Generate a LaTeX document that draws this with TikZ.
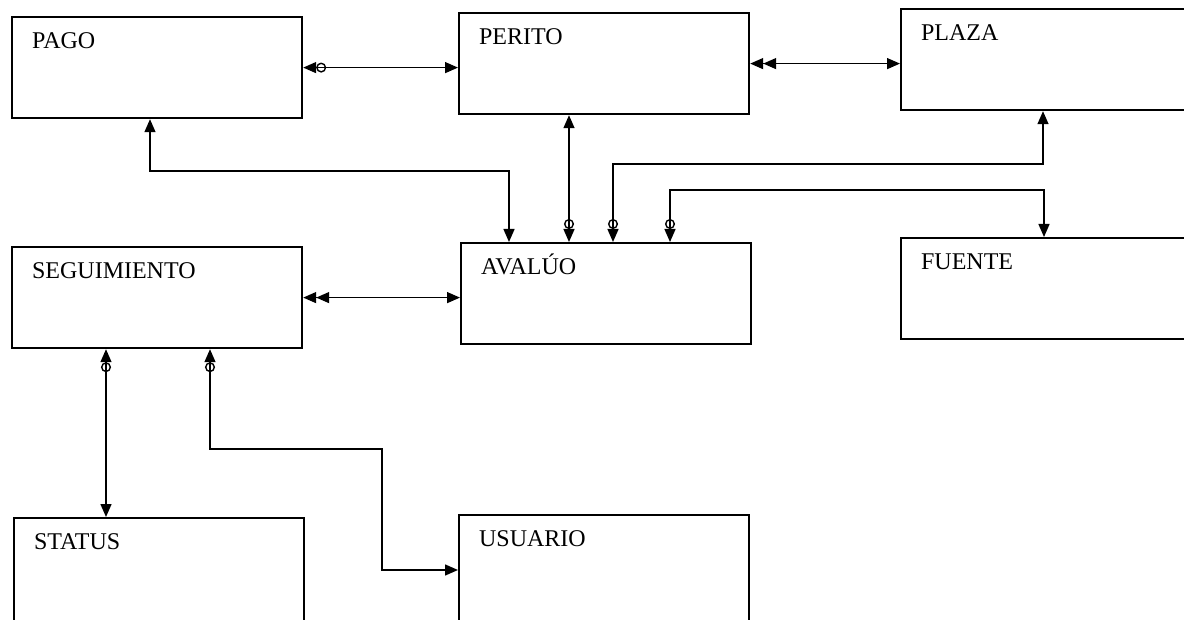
\documentclass[tikz,border=0pt]{standalone}
\usepackage{fontspec}
\setmainfont{Liberation Serif}
\usetikzlibrary{arrows.meta}

\begin{document}
\begin{tikzpicture}[x=0.5pt,y=-0.5pt,
    entity/.style={draw, line width=1.1pt, anchor=north west, inner xsep=10pt, inner ysep=0pt,
        text width=125pt, text height=15.5pt, text depth=35pt, align=left,
        font=\fontsize{12}{14}\selectfont},
    rel/.style={line width=0.7pt},
    tri/.tip={Triangle[length=6.5pt,width=5.5pt]},
    ring/.tip={Circle[open,length=5pt,width=5pt]}]
    % Page frame
    \useasboundingbox (0,0) rectangle (1184,620);
    \clip (0,0) rectangle (1184,620);

    % Entities
    \node[entity] (pago) at (11,16) {PAGO};
    \node[entity] (perito) at (458,12) {PERITO};
    \node[entity, text width=170pt] (plaza) at (900,8) {PLAZA};
    \node[entity] (seguimiento) at (11,246) {SEGUIMIENTO};
    \node[entity] (avaluo) at (460,242) {AVALÚO};
    \node[entity, text width=170pt] (fuente) at (900,237) {FUENTE};
    \node[entity, text depth=45pt] (status) at (13,517) {STATUS};
    \node[entity, text depth=45pt] (usuario) at (458,514) {USUARIO};

    % Bend points
    \coordinate (b1) at (150,171);
    \coordinate (b2) at (509,171);
    \coordinate (b3) at (569,0);
    \coordinate (b4) at (613,164);
    \coordinate (b5) at (1043,164);
    \coordinate (b6) at (670,190);
    \coordinate (b7) at (1044,190);
    \coordinate (b8) at (106,0);
    \coordinate (b9) at (210,449);
    \coordinate (b10) at (382,449);
    \coordinate (b11) at (382,570);

    % Horizontal relations
    \draw[rel, {tri[] ring[]}-{tri[]}] (pago.east) -- (pago.east -| perito.west);
    \draw[rel, {tri[sep=0pt] tri[]}-{tri[]}] (perito.east) -- (perito.east -| plaza.west);
    \draw[rel, {tri[sep=0pt] tri[]}-{tri[]}] (seguimiento.east) -- (seguimiento.east -| avaluo.west);

    % Relations into AVALUO
    \draw[rel, {tri[]}-{tri[]}] (pago.south -| b1) -- (b1) -- (b2) -- (avaluo.north -| b2);
    \draw[rel, {tri[]}-{ring[] tri[]}] (perito.south -| b3) -- (avaluo.north -| b3);
    \draw[rel, {tri[]}-{ring[] tri[]}] (plaza.south -| b5) -- (b5) -- (b4) -- (avaluo.north -| b4);
    \draw[rel, {tri[]}-{ring[] tri[]}] (fuente.north -| b7) -- (b7) -- (b6) -- (avaluo.north -| b6);

    % Relations from SEGUIMIENTO
    \draw[rel, {tri[] ring[]}-{tri[]}] (seguimiento.south -| b8) -- (status.north -| b8);
    \draw[rel, {tri[] ring[]}-{tri[]}] (seguimiento.south -| b9) -- (b9) -- (b10) -- (b11) -- (usuario.west |- b11);
\end{tikzpicture}
\end{document}
